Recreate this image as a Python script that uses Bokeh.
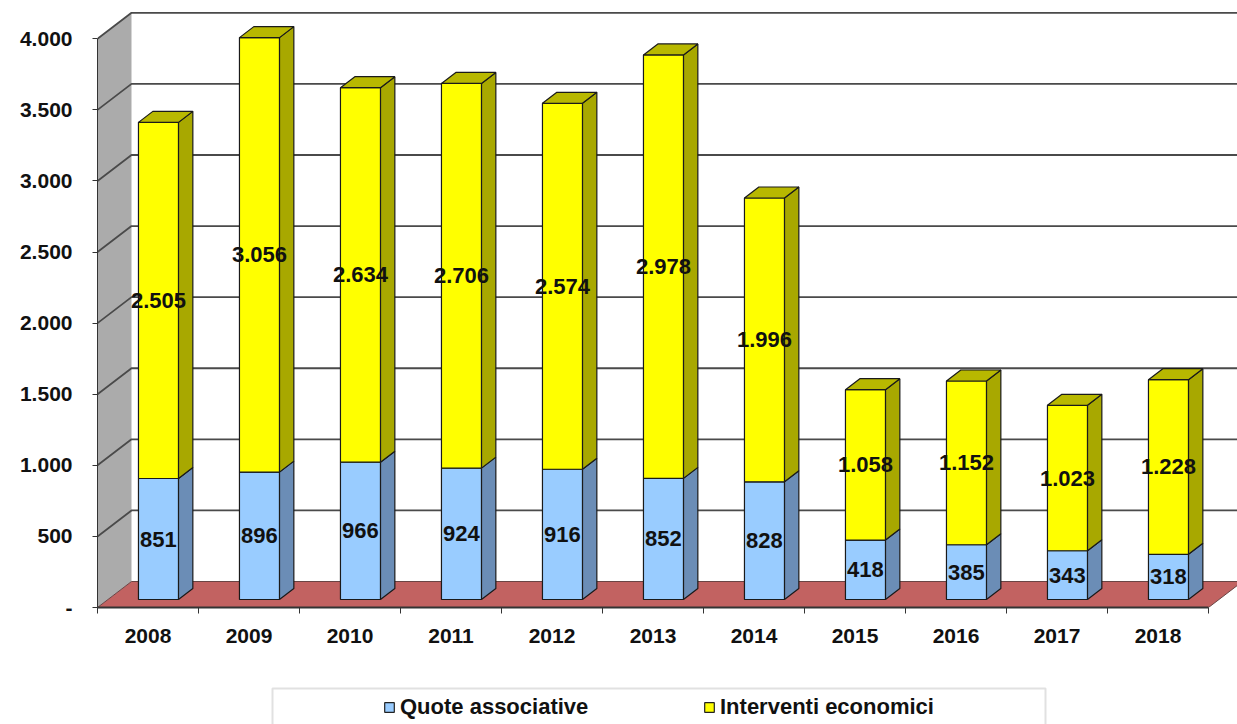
from bokeh.plotting import figure
from bokeh.models import Range1d, FixedTicker, Legend, LegendItem, BoxAnnotation
from bokeh.layouts import column
from bokeh.embed import file_html
from bokeh.resources import INLINE
from bokeh.core.properties import value

# ---------------- data ----------------
years = ["2008", "2009", "2010", "2011", "2012", "2013", "2014", "2015", "2016", "2017", "2018"]
quote_associative = [851, 896, 966, 924, 916, 852, 828, 418, 385, 343, 318]
interventi_economici = [2505, 3056, 2634, 2706, 2574, 2978, 1996, 1058, 1152, 1023, 1228]
y_ticks = [0, 500, 1000, 1500, 2000, 2500, 3000, 3500, 4000]
y_tick_labels = ["-", "500", "1.000", "1.500", "2.000", "2.500", "3.000", "3.500", "4.000"]
series_names = ["Quote associative", "Interventi economici"]

# ---------------- style / geometry ----------------
FONT = "Liberation Sans"
BLUE, BLUE_SIDE = "#99CCFF", "#6B8DB6"
YEL, YEL_SIDE, YEL_TOP = "#FFFF00", "#A8A800", "#B8B800"
FLOOR = "#C26261"
WALL = "#ABABAB"
GRID = "#4A4A4A"

PX_PER_CAT = 101.0
PX_PER_VAL = 568.7 / 4000.0
DX = 34.0 / PX_PER_CAT        # full depth, x (category units)
DY = 26.0 / PX_PER_VAL        # full depth, y (value units)
F0, F1 = 8.0 / 26.0, 19.0 / 26.0   # bar front / back depth fractions
BAR_W = 40.0 / PX_PER_CAT
N = len(years)
X0 = -0.5
X_END = X0 + 1140.0 / PX_PER_CAT
Y_END = 599.0 / PX_PER_VAL
YMAX = y_ticks[-1]

p = figure(width=1237, height=664, x_range=Range1d(X0, X_END), y_range=Range1d(0, Y_END),
           output_backend="svg", toolbar_location=None,
           min_border_left=97, min_border_right=0, min_border_top=8, min_border_bottom=57)
p.xgrid.visible = False
p.ygrid.visible = False
p.outline_line_color = None
p.background_fill_color = "white"
p.border_fill_color = "white"

# left wall
p.patch([X0, X0 + DX, X0 + DX, X0], [0, DY, YMAX + DY, YMAX],
        fill_color=WALL, line_color=None)
# gridlines (wall diagonal + back wall)
gx = [[X0, X0 + DX, X_END + 1] for t in y_ticks[1:]]
gy = [[t, t + DY, t + DY] for t in y_ticks[1:]]
p.multi_line(gx, gy, line_color=GRID, line_width=1.8)

# floor
p.patch([X0, X0 + N, X0 + N + DX, X0 + DX], [0, 0, DY, DY],
        fill_color=FLOOR, line_color="#6A4444", line_width=1)

# bars
ox0, oy0 = F0 * DX, F0 * DY
ddx, ddy = (F1 - F0) * DX, (F1 - F0) * DY
faces = {k: {"xs": [], "ys": []} for k in ["bs", "bf", "ys", "yf", "yt"]}
lab_x, lab_y, lab_t = [], [], []
for i in range(N):
    l = i - BAR_W / 2 + ox0
    r = i + BAR_W / 2 + ox0
    segs = [(0, quote_associative[i], "bf", "bs"),
            (quote_associative[i], quote_associative[i] + interventi_economici[i], "yf", "ys")]
    for (b, t, kf, ks) in segs:
        yb, yt = b + oy0, t + oy0
        faces[kf]["xs"].append([l, r, r, l])
        faces[kf]["ys"].append([yb, yb, yt, yt])
        faces[ks]["xs"].append([r, r + ddx, r + ddx, r])
        faces[ks]["ys"].append([yb, yb + ddy, yt + ddy, yt])
        lab_x.append((l + r) / 2)
        lab_y.append((yb + yt) / 2)
        lab_t.append(f"{t - b:,}".replace(",", "."))
    ytop = quote_associative[i] + interventi_economici[i] + oy0
    faces["yt"]["xs"].append([l, r, r + ddx, l + ddx])
    faces["yt"]["ys"].append([ytop, ytop, ytop + ddy, ytop + ddy])

for key, col in [("bs", BLUE_SIDE), ("bf", BLUE), ("ys", YEL_SIDE), ("yf", YEL), ("yt", YEL_TOP)]:
    p.patches(faces[key]["xs"], faces[key]["ys"], fill_color=col,
              line_color="#1A1A1A", line_width=1.2)

p.text(x=lab_x, y=lab_y, text=lab_t, text_font=value(FONT), text_font_style="bold",
       text_font_size="22px", text_align="center", text_baseline="middle", text_color="#111111")

# axes
p.yaxis.ticker = FixedTicker(ticks=y_ticks, minor_ticks=[])
p.yaxis.major_label_overrides = {t: s for t, s in zip(y_ticks, y_tick_labels)}
p.yaxis.bounds = (0, YMAX)
p.yaxis.major_tick_in = 0
p.yaxis.major_tick_out = 5
p.yaxis.major_label_standoff = 20
p.yaxis.axis_line_color = "#333333"
p.yaxis.major_tick_line_color = "#333333"

p.xaxis.ticker = FixedTicker(ticks=list(range(N)), minor_ticks=[i - 0.5 for i in range(N + 1)])
p.xaxis.major_label_overrides = {i: y for i, y in enumerate(years)}
p.xaxis.bounds = (X0, X0 + N)
p.xaxis.major_tick_in = 0
p.xaxis.major_tick_out = 0
p.xaxis.minor_tick_in = 0
p.xaxis.minor_tick_out = 6
p.xaxis.minor_tick_line_color = "#333333"
p.xaxis.axis_line_color = "#333333"
p.xaxis.axis_line_width = 2
p.xaxis.major_label_standoff = 15

for ax in (p.xaxis, p.yaxis):
    ax.major_label_text_font = FONT
    ax.major_label_text_font_style = "bold"
    ax.major_label_text_font_size = "21px"
    ax.major_label_text_color = "#111111"

# legend strip (its frame is aligned with the main frame: page x 97..1237)
p2 = figure(width=1237, height=60, x_range=Range1d(97, 1237), y_range=Range1d(0, 60),
            output_backend="svg", toolbar_location=None, min_border=0)
p2.axis.visible = False
p2.grid.visible = False
p2.outline_line_color = None
r1 = p2.rect(x=[-1000], y=[-1000], width=1, height=1, fill_color=BLUE, line_color="#222222", line_width=1.2)
r2 = p2.rect(x=[-1000], y=[-1000], width=1, height=1, fill_color=YEL, line_color="#222222", line_width=1.2)
p2.add_layout(BoxAnnotation(left=272, right=1045, top=36, bottom=-20, fill_alpha=0,
                            line_color="#9A9A9A", line_width=2))
leg = Legend(items=[LegendItem(label=series_names[0], renderers=[r1]),
                    LegendItem(label=series_names[1], renderers=[r2])],
             orientation="horizontal", location=(383 - 97, 4), glyph_width=12, glyph_height=12,
             label_standoff=5, label_width=300, spacing=3, padding=0, margin=0,
             border_line_alpha=0, background_fill_alpha=0,
             label_text_font=FONT, label_text_font_style="bold", label_text_font_size="22px",
             label_text_color="#111111")
p2.add_layout(leg)

layout = column(p, p2, spacing=0)
open("out.html", "w").write(file_html(layout, INLINE))
